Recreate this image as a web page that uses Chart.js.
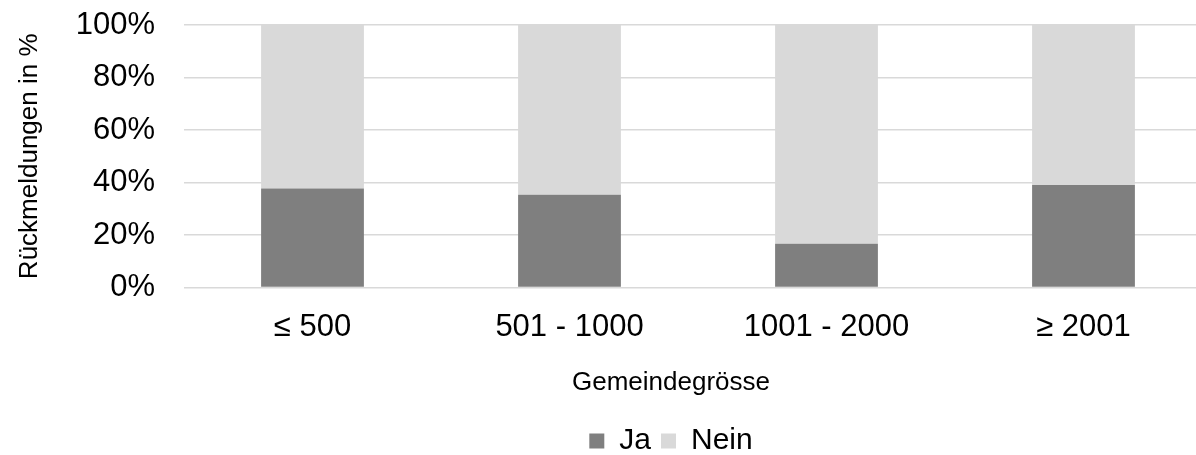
<!DOCTYPE html>
<html>
<head>
<meta charset="utf-8">
<script src="https://cdn.jsdelivr.net/npm/chart.js@4"></script>
<style>
  html, body { margin: 0; padding: 0; background: #fff; overflow: hidden; }
  #wrap { position: absolute; left: 0; top: 0; width: 1342px; height: 466px; }
</style>
</head>
<body>
<div id="wrap"><canvas id="c"></canvas></div>
<script>
const categories = ['≤ 500', '501 - 1000', '1001 - 2000', '≥ 2001'];
const jaValues = [37.7, 35.4, 16.7, 39.1];
const neinValues = [62.3, 64.6, 83.3, 60.9];
const yTicks = [0, 20, 40, 60, 80, 100];

const FONT = "'Liberation Sans', Arial, sans-serif";
Chart.defaults.font.family = FONT;
Chart.defaults.color = '#000';

new Chart(document.getElementById('c'), {
  type: 'bar',
  data: {
    labels: categories,
    datasets: [
      { label: 'Ja', data: jaValues, backgroundColor: '#7f7f7f', borderWidth: 0,
        barPercentage: 0.4, categoryPercentage: 1.0 },
      { label: 'Nein', data: neinValues, backgroundColor: '#d9d9d9', borderWidth: 0,
        barPercentage: 0.4, categoryPercentage: 1.0 }
    ]
  },
  options: {
    responsive: true,
    maintainAspectRatio: false,
    animation: false,
    layout: { padding: { top: 25, left: 0, right: 0, bottom: 0 } },
    scales: {
      x: {
        stacked: true,
        grid: { display: false, drawTicks: false },
        border: { display: false },
        ticks: { font: { size: 31 }, color: '#000', padding: 21, maxRotation: 0 }
      },
      y: {
        stacked: true,
        min: 0, max: 100,
        afterBuildTicks: (scale) => { scale.ticks = yTicks.map(v => ({ value: v })); },
        afterFit: (scale) => { scale.width = 184; scale.paddingTop = 0; scale.paddingBottom = 0; },
        grid: { color: '#d9d9d9', lineWidth: 1.5, drawTicks: false },
        border: { display: false },
        ticks: { font: { size: 31 }, color: '#000', padding: 29, callback: v => v + '%' },
        title: { display: true, text: 'Rückmeldungen in %', font: { size: 26 }, color: '#000',
                 padding: { top: 14, bottom: 0 } }
      },
      yRight: {
        position: 'right',
        display: true,
        grid: { display: false, drawTicks: false },
        border: { display: false },
        ticks: { display: false },
        afterFit: (scale) => { scale.width = 130; }
      }
    },
    plugins: {
      tooltip: { enabled: false },
      title: {
        display: true,
        text: 'Gemeindegrösse',
        position: 'bottom',
        weight: 500,
        font: { size: 26, weight: 'normal' },
        color: '#000',
        padding: { top: 0, bottom: 18 }
      },
      legend: {
        position: 'bottom',
        labels: { font: { size: 30 }, color: '#000', boxWidth: 15, boxHeight: 15, padding: 10 }
      }
    }
  }
});
</script>
</body>
</html>
